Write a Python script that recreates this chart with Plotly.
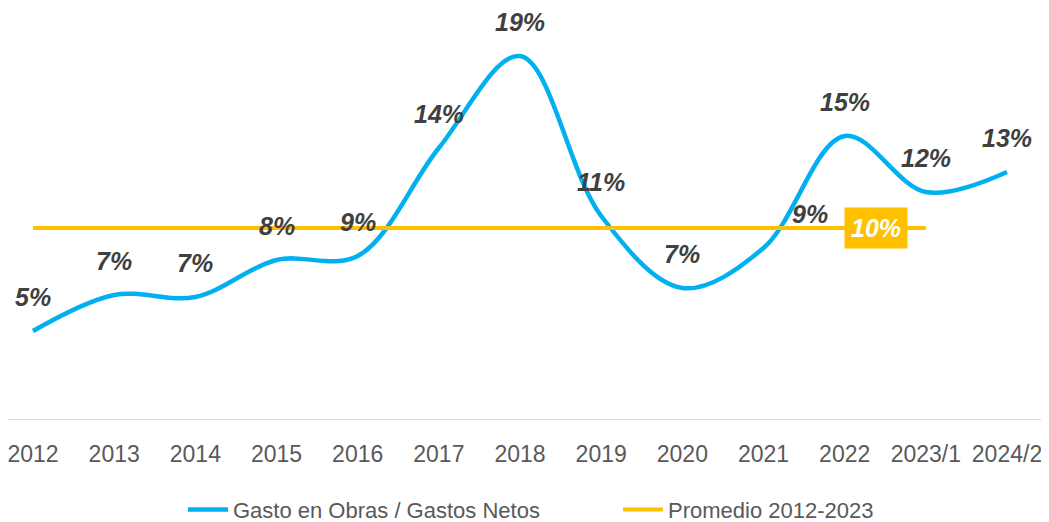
import plotly.graph_objects as go

# Data
categories = ["2012", "2013", "2014", "2015", "2016", "2017", "2018",
              "2019", "2020", "2021", "2022", "2023/1", "2024/2"]
gasto_obras = [4.85, 6.65, 6.55, 8.4, 8.6, 14.0, 18.6,
               10.6, 7.0, 9.0, 14.6, 11.8, 12.8]
promedio_value = 10.0
promedio_categories = categories[:-1]
promedio_label = "10%"

BLUE = "#00B0F0"
GOLD = "#FFC000"
LABEL_COLOR = "#404040"
FONT = "Liberation Sans"

fig = go.Figure()

fig.add_trace(
    go.Scatter(
        x=categories,
        y=gasto_obras,
        mode="lines",
        name="Gasto en Obras / Gastos Netos",
        line=dict(color=BLUE, width=4.5, shape="spline", smoothing=1.0),
        hoverinfo="skip",
    )
)

fig.add_trace(
    go.Scatter(
        x=promedio_categories,
        y=[promedio_value] * len(promedio_categories),
        mode="lines",
        name="Promedio 2012-2023",
        line=dict(color=GOLD, width=4),
        hoverinfo="skip",
    )
)

# Data labels above each point (2021 label was nudged right in the original).
# Category names look numeric, so annotations are placed by category index.
for i, val in enumerate(gasto_obras):
    fig.add_annotation(
        x=i,
        y=val,
        text=f"<b><i>{round(val):.0f}%</i></b>",
        showarrow=False,
        yshift=34,
        xshift=46 if categories[i] == "2021" else 0,
        font=dict(family=FONT, size=25, color=LABEL_COLOR),
    )

# Highlighted average label sitting on the yellow line
fig.add_annotation(
    x=categories.index("2022"),
    y=promedio_value,
    text=f"<b><i>{promedio_label}</i></b>",
    showarrow=False,
    xshift=31,
    bgcolor=GOLD,
    borderpad=6,
    font=dict(family=FONT, size=25, color="white"),
)

# the page body adds an 8px offset, so the layout is laid out 8px up/left
fig.update_layout(
    width=1049,
    height=522,
    margin=dict(l=0, r=0, t=2, b=111, autoexpand=False),
    paper_bgcolor="white",
    plot_bgcolor="white",
    font=dict(family=FONT, color="#595959"),
    showlegend=True,
    legend=dict(
        orientation="h",
        x=0.1668,
        xanchor="left",
        y=-0.222,
        yanchor="middle",
        font=dict(family=FONT, size=22, color="#595959"),
        itemwidth=40,
        entrywidth=380,
        entrywidthmode="pixels",
    ),
    xaxis=dict(
        type="category",
        range=[-0.308, 12.616],
        automargin=False,
        showgrid=False,
        zeroline=False,
        showline=True,
        linecolor="#D9D9D9",
        linewidth=1,
        ticks="",
        ticklabelstandoff=14,
        tickfont=dict(family=FONT, size=23, color="#595959"),
        fixedrange=True,
    ),
    yaxis=dict(
        range=[0.45, 20.9],
        visible=False,
        showgrid=False,
        zeroline=False,
        fixedrange=True,
    ),
)

fig.write_html("out.html")
